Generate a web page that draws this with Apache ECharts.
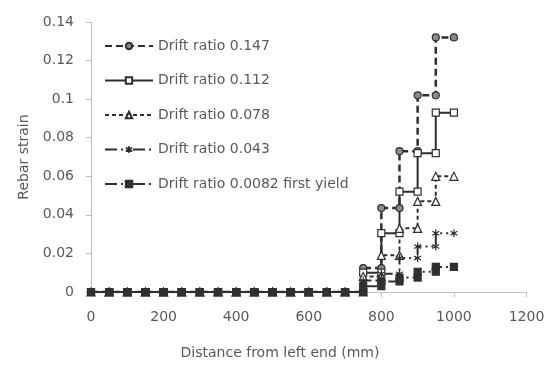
<!DOCTYPE html>
<html>
<head>
<meta charset="utf-8">
<script src="https://cdn.jsdelivr.net/npm/echarts@6/dist/echarts.min.js"></script>
<style>
  html, body { margin: 0; padding: 0; background: #fff; }
  #chart { width: 552px; height: 365px; }
</style>
</head>
<body>
<div id="chart"></div>
<script>
// Gauge positions along the bar (mm); strain is constant over each 50 mm segment
const positions = [0, 50, 100, 150, 200, 250, 300, 350, 400, 450, 500,
                   550, 600, 650, 700, 750, 800, 850, 900, 950, 1000];

// Segment strains, one value per segment starting at positions[i]
const strain0147 = [0, 0, 0, 0, 0, 0, 0, 0, 0, 0, 0, 0, 0, 0, 0, 0.0124, 0.0435, 0.073, 0.102, 0.132];
const strain0112 = [0, 0, 0, 0, 0, 0, 0, 0, 0, 0, 0, 0, 0, 0, 0, 0.010, 0.0305, 0.052, 0.072, 0.093];
const strain0078 = [0, 0, 0, 0, 0, 0, 0, 0, 0, 0, 0, 0, 0, 0, 0, 0.008, 0.019, 0.033, 0.047, 0.060];
const strain0043 = [0, 0, 0, 0, 0, 0, 0, 0, 0, 0, 0, 0, 0, 0, 0, 0.006, 0.0095, 0.0176, 0.0236, 0.0305];
const strain00082 = [0, 0, 0, 0, 0, 0, 0, 0, 0, 0, 0, 0, 0, 0, 0, 0.003, 0.0055, 0.0075, 0.0105, 0.013];

const seriesNames = ['Drift ratio 0.147', 'Drift ratio 0.112', 'Drift ratio 0.078',
                     'Drift ratio 0.043', 'Drift ratio 0.0082 first yield'];

const xTicks = [0, 200, 400, 600, 800, 1000, 1200];
const yTicks = [0, 0.02, 0.04, 0.06, 0.08, 0.1, 0.12, 0.14];

// Turn segment values into a stepped polyline: both ends of every segment
function stepPoints(values) {
  const pts = [];
  for (let i = 0; i < values.length; i++) {
    pts.push([positions[i], values[i]]);
    pts.push([positions[i + 1], values[i]]);
  }
  return pts;
}

const ink = '#2e2e2e';
const textColor = '#595959';
const font = 'DejaVu Sans';

const asterisk = 'path://M5,0L5,10M0.7,2.5L9.3,7.5M9.3,2.5L0.7,7.5';
const boxCross = 'path://M0,0L10,0L10,10L0,10Z M1.5,1.5L8.5,8.5M8.5,1.5L1.5,8.5';

function lineSeries(name, values, symbol, size, fill, dash, width) {
  return {
    name: name,
    type: 'line',
    data: stepPoints(values),
    symbol: symbol,
    symbolSize: size,
    symbolKeepAspect: true,
    showSymbol: true,
    itemStyle: { color: fill, borderColor: ink, borderWidth: 1.2 },
    lineStyle: { color: ink, width: width, type: dash },
    emphasis: { disabled: true },
    z: 2
  };
}

const chart = echarts.init(document.getElementById('chart'), null, { renderer: 'canvas' });

chart.setOption({
  animation: false,
  backgroundColor: '#ffffff',
  grid: { left: 91, right: 25.5, top: 22, bottom: 73 },
  legend: {
    orient: 'vertical',
    left: 104,
    top: 39,
    padding: 0,
    itemWidth: 48,
    itemHeight: 8,
    itemGap: 20.5,
    textStyle: { color: textColor, fontFamily: font, fontSize: 14 },
    data: seriesNames
  },
  xAxis: {
    type: 'value',
    min: xTicks[0],
    max: xTicks[xTicks.length - 1],
    interval: 200,
    axisLine: { show: true, lineStyle: { color: '#bfbfbf', width: 1 } },
    axisTick: { show: true, length: 5, lineStyle: { color: '#bfbfbf' } },
    splitLine: { show: false },
    axisLabel: {
      color: textColor, fontFamily: font, fontSize: 14, margin: 18,
      formatter: function (v) { return String(v); }
    }
  },
  yAxis: {
    type: 'value',
    min: yTicks[0],
    max: yTicks[yTicks.length - 1],
    interval: 0.02,
    name: 'Rebar strain',
    nameLocation: 'middle',
    nameGap: 60,
    nameRotate: 90,
    nameTextStyle: { color: textColor, fontFamily: font, fontSize: 14 },
    axisLine: { show: true, lineStyle: { color: '#bfbfbf', width: 1 } },
    axisTick: { show: true, length: 5, lineStyle: { color: '#bfbfbf' } },
    splitLine: { show: false },
    axisLabel: {
      color: textColor, fontFamily: font, fontSize: 14, margin: 17,
      formatter: function (v) { return String(parseFloat(v.toFixed(4))); }
    }
  },
  graphic: [{
    type: 'text',
    x: 280,
    y: 353,
    style: {
      text: 'Distance from left end (mm)',
      align: 'center',
      verticalAlign: 'middle',
      fill: textColor,
      font: '14px "DejaVu Sans"'
    }
  }],
  series: [
    lineSeries(seriesNames[0], strain0147, 'circle', 7, '#8a8a8a', [7, 4], 2.5),
    lineSeries(seriesNames[1], strain0112, 'rect', 7, '#ffffff', 'solid', 2),
    lineSeries(seriesNames[2], strain0078, 'triangle', 8, '#ffffff', [4, 3], 2),
    lineSeries(seriesNames[3], strain0043, asterisk, 8, '#ffffff', [12, 4, 2, 4, 2, 4], 2),
    lineSeries(seriesNames[4], strain00082, boxCross, 7, '#333333', [12, 4, 2, 4, 2, 4], 2)
  ]
});
</script>
</body>
</html>
